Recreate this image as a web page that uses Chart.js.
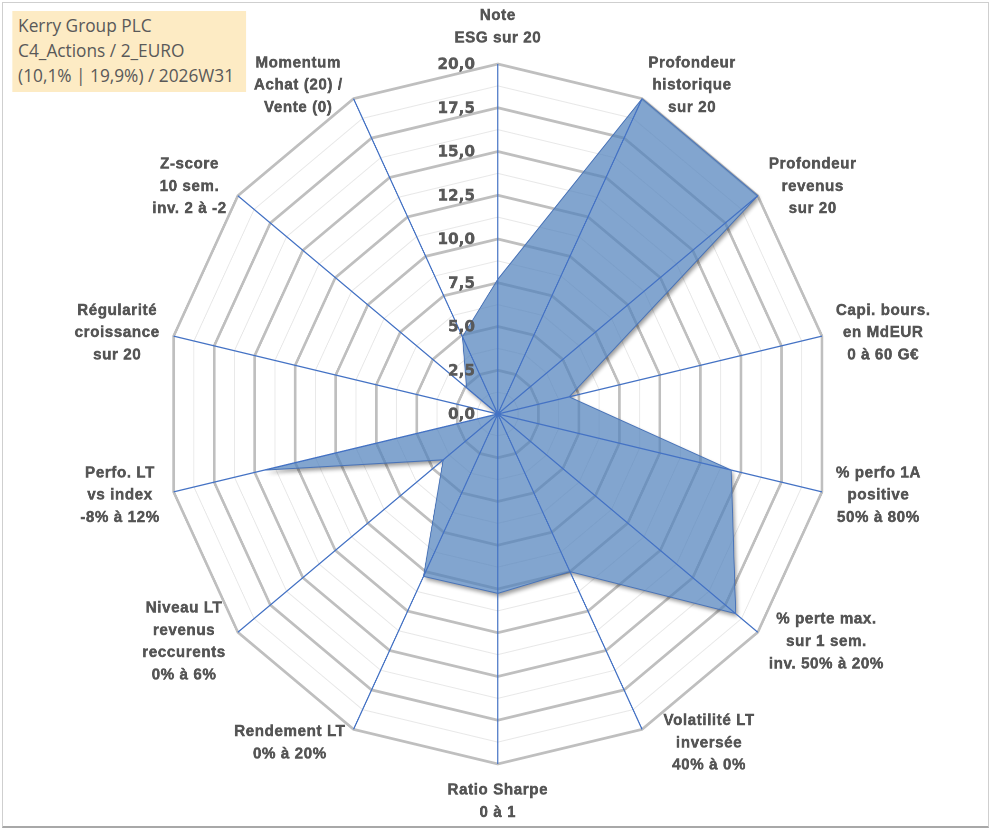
<!DOCTYPE html>
<html><head><meta charset="utf-8">
<script src="https://cdn.jsdelivr.net/npm/chart.js@4"></script>
<style>
html,body{margin:0;padding:0;background:#fff;overflow:hidden;}
#frame{position:absolute;left:2px;top:2px;width:987px;height:826px;box-sizing:border-box;border:1px solid #CFCFCF;border-bottom:2px solid #A8A8A8;pointer-events:none;z-index:5}
#wrap{position:absolute;left:0;top:0;width:1043px;height:830px;transform:scaleX(0.95);transform-origin:0 0;}
#cc{position:absolute;left:0;top:0;width:1043px;height:830px;}
#box{position:absolute;left:13px;top:11px;width:246px;height:81px;background:#FDEBC4;color:#595959;font-family:"Open Sans";font-size:18.2px;line-height:25px;padding:2px 0 0 6px;box-sizing:border-box;white-space:nowrap;z-index:2}
</style></head>
<body>
<div id="wrap"><div id="cc"><canvas id="c"></canvas></div><div id="box"></div></div>
<div id="frame"></div>
<script>
const titleLines = ['Kerry Group PLC', 'C4_Actions / 2_EURO', '(10,1% | 19,9%) / 2026W31'];
const categories = [
  ['Note', 'ESG sur 20'],
  ['Profondeur', 'historique', 'sur 20'],
  ['Profondeur', 'revenus', 'sur 20'],
  ['Capi. bours.', 'en MdEUR', '0 à 60 G€'],
  ['% perfo 1A', 'positive', '50% à 80%'],
  ['% perte max.', 'sur 1 sem.', 'inv. 50% à 20%'],
  ['Volatilité LT', 'inversée', '40% à 0%'],
  ['Ratio Sharpe', '0 à 1'],
  ['Rendement LT', '0% à 20%'],
  ['Niveau LT', 'revenus', 'reccurents', '0% à 6%'],
  ['Perfo. LT', 'vs index', '-8% à 12%'],
  ['Régularité', 'croissance', 'sur 20'],
  ['Z-score', '10 sem.', 'inv. 2 à -2'],
  ['Momentum', 'Achat (20) /', 'Vente (0)']
];
const values = [7.7, 20, 20, 4.4, 14.4, 18.3, 10.0, 10.25, 10.3, 4.2, 14.4, 0, 2.4, 4.9];
const tickValues = [0, 2.5, 5, 7.5, 10, 12.5, 15, 17.5, 20];
const tickLabels = ['0,0', '2,5', '5,0', '7,5', '10,0', '12,5', '15,0', '17,5', '20,0'];

document.getElementById('box').innerHTML = titleLines.map(t => '<div>' + t.replace(/&/g,'&amp;').replace(/</g,'&lt;') + '</div>').join('');

function isMajor(v) { return Math.abs(v / 2.5 - Math.round(v / 2.5)) < 1e-6; }
function inPoly(x, y, poly) {
  let c = false;
  for (let i = 0, j = poly.length - 1; i < poly.length; j = i++) {
    const a = poly[i], b = poly[j];
    if (((a.y > y) !== (b.y > y)) && (x < (b.x - a.x) * (y - a.y) / (b.y - a.y) + a.x)) c = !c;
  }
  return c;
}

const deco = {
  id: 'deco',
  beforeDatasetsDraw(chart) {
    const meta = chart.getDatasetMeta(0);
    const pts = meta.data;
    const ctx = chart.ctx;
    ctx.save();
    ctx.beginPath();
    ctx.rect(0, 0, chart.width, chart.height);
    pts.forEach((p, i) => i ? ctx.lineTo(p.x, p.y) : ctx.moveTo(p.x, p.y));
    ctx.closePath();
    ctx.clip('evenodd');
    ctx.beginPath();
    pts.forEach((p, i) => i ? ctx.lineTo(p.x, p.y) : ctx.moveTo(p.x, p.y));
    ctx.closePath();
    ctx.shadowColor = 'rgba(0,0,0,0.4)';
    ctx.shadowBlur = 9;
    ctx.shadowOffsetX = 4;
    ctx.shadowOffsetY = 6;
    ctx.fillStyle = '#000';
    ctx.fill();
    ctx.restore();
  },
  afterDatasetsDraw(chart) {
    const s = chart.scales.r, ctx = chart.ctx;
    const n = categories.length;
    ctx.save();
    ctx.strokeStyle = '#4472C4';
    ctx.lineWidth = 1.3;
    for (let i = 0; i < n; i++) {
      const p = s.getPointPosition(i, s.drawingArea);
      ctx.beginPath();
      ctx.moveTo(s.xCenter, s.yCenter);
      ctx.lineTo(p.x, p.y);
      ctx.stroke();
    }
    ctx.font = 'bold 16px "DejaVu Sans"';
    ctx.fillStyle = '#595959';
    ctx.strokeStyle = '#595959';
    ctx.lineWidth = 0.4;
    ctx.textAlign = 'right';
    ctx.textBaseline = 'middle';
    tickValues.forEach((v, k) => {
      const d = s.getDistanceFromCenterForValue(v);
      ctx.fillText(tickLabels[k], s.xCenter - 24, s.yCenter - d + 1);
      ctx.strokeText(tickLabels[k], s.xCenter - 24, s.yCenter - d + 1);
    });
    const poly = [];
    for (let j = 0; j < n; j++) poly.push(s.getPointPosition(j, s.drawingArea));
    ctx.font = 'bold 16px "Liberation Sans"';
    try { ctx.letterSpacing = '0.6px'; } catch (e) {}
    ctx.textAlign = 'center';
    ctx.textBaseline = 'middle';
    ctx.fillStyle = '#555555';
    ctx.strokeStyle = '#555555';
    ctx.lineWidth = 0.5;
    const LH = 22.3, GAP = 15, HALF = 8.5;
    categories.forEach((lines, i) => {
      const ang = s.getIndexAngle(i);
      const sn = Math.sin(ang), cs = Math.cos(ang);
      const P = s.getPointPosition(i, s.drawingArea + GAP);
      const ws = lines.map(t => ctx.measureText(t).width);
      const W = Math.max(...ws), H = lines.length * LH;
      let left, top;
      if (Math.abs(sn) < 1e-3) { left = P.x - W / 2; top = cs > 0 ? P.y - H : P.y; }
      else { top = P.y - H / 2; left = sn > 0 ? P.x : P.x - W; }
      const dir = sn > 1e-3 ? 1 : (sn < -1e-3 ? -1 : 0);
      const hits = () => lines.some((t, k) => {
        const lx = left + (W - ws[k]) / 2, cy = top + (k + 0.5) * LH;
        return [[lx, cy - HALF], [lx + ws[k], cy - HALF], [lx, cy + HALF], [lx + ws[k], cy + HALF]]
          .some(([x, y]) => inPoly(x, y, poly));
      });
      let guard = 0;
      while (dir !== 0 && hits() && guard++ < 200) left += dir;
      lines.forEach((t, k) => {
        ctx.fillText(t, left + W / 2, top + (k + 0.5) * LH);
        ctx.strokeText(t, left + W / 2, top + (k + 0.5) * LH);
      });
    });
    ctx.restore();
  }
};

new Chart(document.getElementById('c'), {
  type: 'radar',
  data: {
    labels: categories,
    datasets: [{
      data: values,
      backgroundColor: 'rgba(82,130,188,0.72)',
      borderColor: '#4A74B8',
      borderWidth: 1,
      pointRadius: 0,
      pointHoverRadius: 0,
      fill: true
    }]
  },
  options: {
    responsive: true,
    maintainAspectRatio: false,
    animation: false,
    devicePixelRatio: 2,
    layout: { padding: { top: 64, bottom: 66, left: 5, right: 0 } },
    plugins: { legend: { display: false }, tooltip: { enabled: false } },
    scales: {
      r: {
        min: 0, max: 20,
        ticks: { display: false, stepSize: 1.25 },
        pointLabels: { display: false },
        angleLines: { display: false },
        grid: {
          color: c => (c.tick && isMajor(c.tick.value)) ? '#BFBFBF' : '#E8E8E8',
          lineWidth: c => (c.tick && isMajor(c.tick.value)) ? 2.8 : 1
        }
      }
    }
  },
  plugins: [deco]
});
</script>
</body></html>
